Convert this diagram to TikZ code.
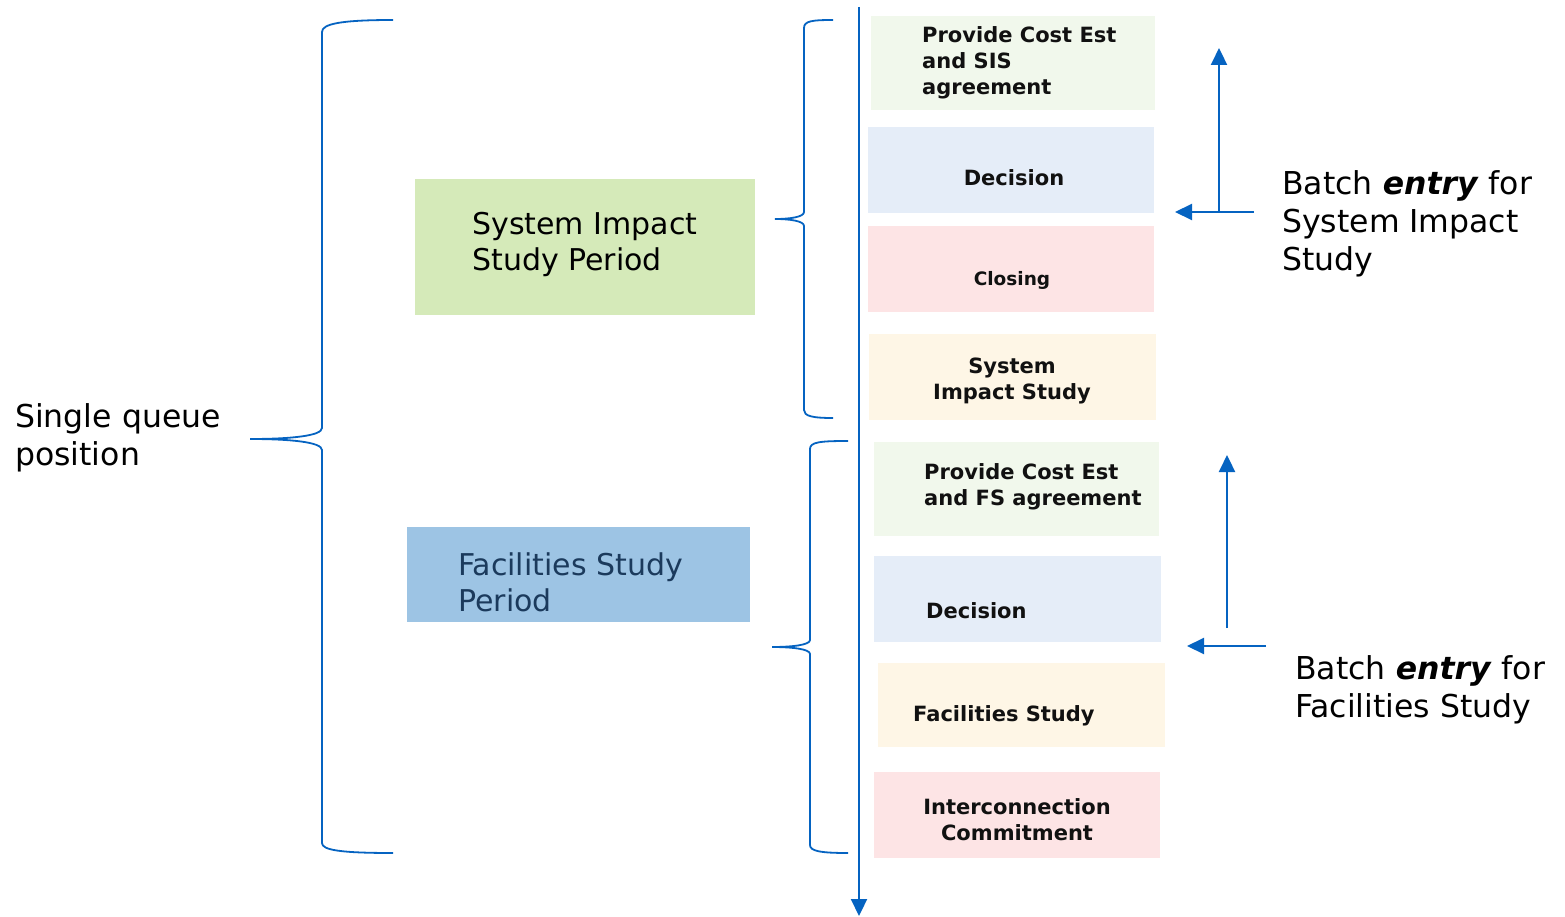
\documentclass[tikz,border=0pt]{standalone}
\usepackage{fontspec}
\setmainfont{DejaVu Sans}
\usetikzlibrary{arrows.meta}
\definecolor{lineblue}{HTML}{0563C1}
\definecolor{lgreen}{HTML}{F1F8EC}
\definecolor{lblue}{HTML}{E5EDF8}
\definecolor{lpink}{HTML}{FDE4E5}
\definecolor{lcream}{HTML}{FEF6E6}
\definecolor{pgreen}{HTML}{D5EAB9}
\definecolor{pblue}{HTML}{9DC4E4}
\definecolor{navy}{HTML}{1B3A5C}
\definecolor{ink}{HTML}{111111}
\tikzset{
  blueline/.style={draw=lineblue, line width=2.2pt},
  bracket/.style={draw=lineblue, line width=1.8pt},
  tip/.style={-{Triangle[width=16pt,length=17pt]}},
  box/.style={draw=none, inner sep=0pt, anchor=north west},
  boxtext/.style={font=\fontsize{21}{26}\selectfont\bfseries, text=ink, inner sep=0pt},
  bigtext/.style={font=\fontsize{30}{36}\selectfont, text=black, inner sep=0pt, align=left},
  labeltext/.style={font=\fontsize{31.5}{38}\selectfont, text=black, inner sep=0pt, align=left},
}
\begin{document}
\begin{tikzpicture}[x=1pt,y=-1pt]
\useasboundingbox (0,0) rectangle (1565,917);
% period boxes
\node[box, fill=pgreen, minimum width=340pt, minimum height=136pt] (sisp) at (415,179) {};
\node[bigtext, anchor=west] (sispt) at (472,244) {System Impact\\Study Period};
\node[box, fill=pblue, minimum width=343pt, minimum height=95pt] (fsp) at (407,527) {};
\node[bigtext, anchor=west, text=navy] (fspt) at (458,582) {Facilities Study\\Period};
% step boxes
\node[box, fill=lgreen, minimum width=284pt, minimum height=94pt] (b1) at (871,16) {};
\node[boxtext, anchor=west, align=left] (t1) at (922,63) {Provide Cost Est\\and SIS\\agreement};
\node[box, fill=lblue, minimum width=286pt, minimum height=86pt] (b2) at (868,127) {};
\node[boxtext, anchor=center] (t2) at (1014,178) {Decision};
\node[box, fill=lpink, minimum width=286pt, minimum height=86pt] (b3) at (868,226) {};
\node[boxtext, anchor=center, font=\fontsize{18.5}{22}\selectfont\bfseries] (t3) at (1012,280) {Closing};
\node[box, fill=lcream, minimum width=287pt, minimum height=86pt] (b4) at (869,334) {};
\node[boxtext, anchor=center, align=center] (t4) at (1012,381) {System\\Impact Study};
\node[box, fill=lgreen, minimum width=285pt, minimum height=94pt] (b5) at (874,442) {};
\node[boxtext, anchor=west, align=left] (t5) at (924,487) {Provide Cost Est\\and FS agreement};
\node[box, fill=lblue, minimum width=287pt, minimum height=86pt] (b6) at (874,556) {};
\node[boxtext, anchor=west] (t6) at (926,611) {Decision};
\node[box, fill=lcream, minimum width=287pt, minimum height=84pt] (b7) at (878,663) {};
\node[boxtext, anchor=west] (t7) at (913,716) {Facilities Study};
\node[box, fill=lpink, minimum width=286pt, minimum height=86pt] (b8) at (874,772) {};
\node[boxtext, anchor=center, align=center] (t8) at (1017,820) {Interconnection\\Commitment};
% timeline
\coordinate (tltop) at (859,7);
\coordinate (tlbot) at (859,916);
\draw[blueline, tip] (tltop) -- (tlbot);
% big brace
\draw[bracket] (393,20) .. controls (340,20) and (322,24) .. (322,32) -- (322,428)
  .. controls (322,436) and (290,439) .. (250,439)
  .. controls (290,439) and (322,442) .. (322,450) -- (322,843)
  .. controls (322,850) and (340,853) .. (393,853);
% middle braces
\draw[bracket] (833,20) .. controls (812,20) and (804,21) .. (804,28) -- (804,212)
  .. controls (804,217) and (790,219) .. (775,219)
  .. controls (790,219) and (804,221) .. (804,226) -- (804,410)
  .. controls (804,416) and (812,418) .. (833,418);
\draw[bracket] (848,441) .. controls (820,441) and (810,442) .. (810,449) -- (810,640)
  .. controls (810,645) and (792,647) .. (772,647)
  .. controls (792,647) and (810,649) .. (810,654) -- (810,845)
  .. controls (810,851) and (820,853) .. (848,853);
% left label
\node[labeltext, anchor=west] (sq) at (15,438) {Single queue\\position};
% batch arrows
\coordinate (a1s) at (1254,212);
\coordinate (a1e) at (1175,212);
\coordinate (a1b) at (1219,212);
\coordinate (a1t) at (1219,48);
\draw[blueline, tip] (a1s) -- (a1e);
\draw[blueline, tip] (a1b) -- (a1t);
\coordinate (a2s) at (1266,646);
\coordinate (a2e) at (1187,646);
\coordinate (a2b) at (1227,628);
\coordinate (a2t) at (1227,455);
\draw[blueline, tip] (a2s) -- (a2e);
\draw[blueline, tip] (a2b) -- (a2t);
% right labels
\node[labeltext, anchor=west] (bl1) at (1282,224) {Batch \textbf{\textit{entry}} for\\System Impact\\Study};
\node[labeltext, anchor=west] (bl2) at (1295,690) {Batch \textbf{\textit{entry}} for\\Facilities Study};
\end{tikzpicture}
\end{document}
